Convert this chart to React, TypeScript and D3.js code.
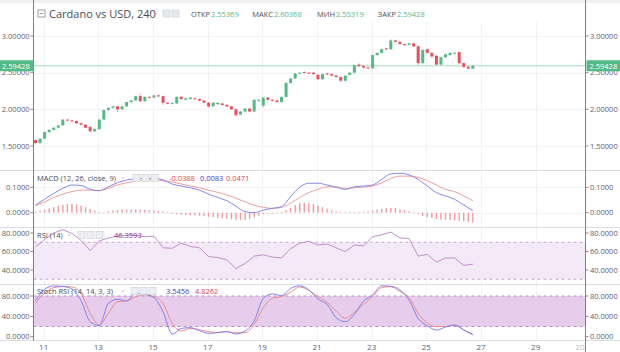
import React from 'react';
import * as d3 from 'd3';

// ---------- DATA ----------
const opens = [1.58,1.54,1.60,1.69,1.72,1.75,1.78,1.86,1.85,1.84,1.81,1.79,1.76,1.70,1.73,1.86,1.99,2.02,2.04,2.00,2.04,2.10,2.12,2.18,2.11,2.17,2.16,2.19,2.18,2.09,2.08,2.08,2.17,2.13,2.14,2.15,2.14,2.12,2.09,2.04,2.07,2.08,2.06,2.04,2.00,1.93,1.97,2.01,1.97,2.12,2.05,2.16,2.13,2.12,2.10,2.17,2.36,2.42,2.49,2.51,2.50,2.50,2.47,2.41,2.49,2.48,2.46,2.44,2.39,2.47,2.50,2.61,2.59,2.57,2.56,2.74,2.77,2.83,2.82,2.94,2.92,2.89,2.88,2.90,2.86,2.63,2.82,2.77,2.73,2.61,2.71,2.74,2.76,2.78,2.63,2.58,2.55369];
const closes = [1.54,1.60,1.69,1.72,1.75,1.78,1.86,1.85,1.84,1.81,1.79,1.75,1.70,1.73,1.86,1.99,2.02,2.04,2.00,2.04,2.10,2.12,2.18,2.11,2.17,2.16,2.19,2.18,2.09,2.08,2.085,2.17,2.14,2.15,2.16,2.14,2.12,2.09,2.04,2.09,2.09,2.06,2.04,2.00,1.92,1.97,2.01,1.97,2.13,2.13,2.16,2.13,2.12,2.10,2.17,2.36,2.42,2.49,2.50,2.50,2.49,2.48,2.41,2.48,2.48,2.46,2.44,2.39,2.46,2.50,2.60,2.59,2.57,2.56,2.74,2.77,2.82,2.82,2.94,2.92,2.89,2.88,2.90,2.86,2.63,2.81,2.77,2.72,2.61,2.71,2.75,2.77,2.77,2.63,2.58,2.555,2.59428];
const highs = [1.59,1.61,1.70,1.73,1.76,1.79,1.87,1.87,1.86,1.85,1.82,1.80,1.77,1.75,1.87,2.00,2.03,2.05,2.05,2.05,2.11,2.13,2.19,2.22,2.18,2.18,2.20,2.20,2.19,2.10,2.10,2.18,2.18,2.16,2.17,2.16,2.15,2.13,2.10,2.10,2.10,2.09,2.07,2.05,2.01,1.98,2.02,2.02,2.14,2.14,2.17,2.17,2.14,2.13,2.18,2.37,2.43,2.50,2.51,2.52,2.51,2.51,2.48,2.49,2.50,2.49,2.47,2.45,2.47,2.51,2.61,2.63,2.60,2.58,2.75,2.78,2.84,2.84,2.96,2.95,2.93,2.90,2.91,2.91,2.87,2.82,2.83,2.78,2.74,2.72,2.76,2.78,2.78,2.79,2.64,2.59,2.60368];
const lows = [1.52,1.53,1.59,1.68,1.71,1.74,1.77,1.84,1.83,1.80,1.78,1.74,1.69,1.69,1.72,1.85,1.98,2.01,1.96,1.99,2.03,2.09,2.11,2.10,2.10,2.15,2.15,2.17,2.06,2.07,2.07,2.07,2.13,2.12,2.13,2.13,2.11,2.08,2.02,2.03,2.06,2.05,2.03,1.99,1.90,1.92,1.96,1.96,1.96,2.10,2.02,2.12,2.11,2.09,2.09,2.16,2.35,2.41,2.48,2.49,2.48,2.47,2.40,2.40,2.47,2.45,2.43,2.38,2.38,2.46,2.49,2.58,2.56,2.55,2.55,2.73,2.76,2.81,2.81,2.91,2.88,2.87,2.87,2.85,2.60,2.62,2.76,2.71,2.60,2.60,2.70,2.73,2.75,2.61,2.56,2.55,2.55319];

// indicator lines, one value every 2 candles
const macdLine = [0.030,0.053,0.076,0.096,0.109,0.107,0.092,0.087,0.102,0.118,0.129,0.133,0.135,0.135,0.129,0.113,0.105,0.098,0.089,0.073,0.060,0.047,0.026,0.004,0.000,0.010,0.017,0.024,0.063,0.100,0.116,0.116,0.109,0.100,0.092,0.102,0.105,0.109,0.131,0.153,0.155,0.149,0.131,0.105,0.079,0.066,0.053,0.030,0.0083];
const signalLine = [0.028,0.042,0.060,0.073,0.083,0.089,0.089,0.087,0.096,0.109,0.118,0.124,0.129,0.129,0.126,0.121,0.113,0.105,0.098,0.089,0.080,0.070,0.057,0.043,0.030,0.021,0.017,0.021,0.037,0.060,0.079,0.092,0.102,0.102,0.096,0.098,0.101,0.105,0.118,0.135,0.144,0.144,0.139,0.126,0.109,0.092,0.083,0.066,0.0471];
// histogram, one per candle
const histogram = [0.004,0.008,0.012,0.017,0.022,0.027,0.031,0.034,0.035,0.033,0.028,0.022,0.015,
0.008,0.002,0.000,0.006,0.009,0.011,0.012,
0.013,0.013,0.012,0.012,0.011,0.010,0.009,0.007,0.005,0.002,
-0.003,-0.006,-0.008,-0.009,-0.010,-0.011,-0.012,-0.014,-0.016,-0.018,-0.020,-0.022,-0.024,-0.026,-0.028,-0.029,-0.028,-0.024,-0.018,-0.012,
-0.006,-0.002,0.000,0.001,0.003,0.010,
0.020,0.030,0.038,0.040,0.038,0.034,0.028,
0.022,0.016,0.010,0.005,0.003,0.002,0.002,
0.002,0.002,0.003,0.004,
0.008,0.012,0.015,0.018,0.019,0.018,0.014,0.010,0.006,
0.001,-0.006,-0.012,-0.017,-0.021,-0.025,-0.027,-0.028,-0.029,-0.030,-0.032,-0.034,-0.036,-0.0388];
const rsiLine = [65,73,80,83.5,79.5,72,61,71.5,74.6,76.5,77.5,77.5,76,76.5,64,63.5,69,65.5,64,54.5,53.5,51,41.5,47,55,56.4,54,53,63,69,71,67,68,64,60,67,66,76,78,81,74.6,74,55,57,48.5,53,53,45,46.3593];
const stochK = [71,93,99.7,99,93.6,71,29.5,22,65.6,73.5,70.2,85.3,83.3,76.7,49,5,16.4,17.7,11.8,6.6,7.9,9.9,5.3,11.2,30.8,75.4,84,80.7,95,100,92,74,63.6,37.5,29.5,44,70,82,100,99,92,72,36,21.6,13,19,23,13,3.5456];
const stochD = [65.6,85.3,96.4,98.4,97.8,85.3,46,23,46,69,70.2,78.7,82,78.7,65.6,26.2,11.2,16.4,13.8,9.9,8.5,9.9,7.9,7.9,24.2,57,75.4,78.7,87.3,97.8,91,78.7,67.6,50.5,36,48,63.6,78.7,96.4,98.4,88.6,76.7,46,27,19.7,20.3,23,13.8,4.8262];

const dayTicks = [11,13,15,17,19,21,23,25,27,29];
const priceTicks = [1.5,2.0,2.5,3.0];
const macdTicks = [0,0.1];
const rsiTicks = [40,60,80];
const stochTicks = [0,40,80];
const lastPrice = 2.59428;
const headerLabels = ['ОТКР', 'МАКС', 'МИН', 'ЗАКР'];
const headerValues = ['2.55369', '2.60368', '2.55319', '2.59428'];

// ---------- LAYOUT ----------
const W = 620, H = 352;
const L = 33.5, R = 585.5;
const FONT = '"Open Sans", "DejaVu Sans", sans-serif';
const UP = '#53b987', DOWN = '#eb4d5c';
const AXIS_TXT = '#5d606b';

const x = d3.scaleLinear().domain([11, 29]).range([43.7, 535.7]);
const candleDay = (i: number) => 10.7 + i / 6;
const yP = d3.scaleLinear().domain([1.5, 3.0]).range([146, 36]);
const yM = d3.scaleLinear().domain([0, 0.1]).range([212.7, 187.3]);
const yR = d3.scaleLinear().domain([40, 80]).range([270, 233]);
const yS = d3.scaleLinear().domain([0, 80]).range([336.7, 296]);

const separators = [170.5, 227.5, 284.5, 340.5];

function lineOf(vals: number[], y: d3.ScaleLinear<number, number>, curve: any = d3.curveMonotoneX) {
  return d3.line<number>()
    .x((_, k) => x(candleDay(k * 2)))
    .y((v) => y(v))
    .curve(curve)(vals) || '';
}

function AxisLabels({ ticks, y, fmt }: { ticks: number[]; y: d3.ScaleLinear<number, number>; fmt: (v: number) => string }) {
  return (
    <g fontFamily={FONT} fontSize={7.5} fill={AXIS_TXT}>
      {ticks.map((t) => (
        <g key={t}>
          <line x1={L - 3} x2={L} y1={y(t)} y2={y(t)} stroke="#888" />
          <line x1={R} x2={R + 3} y1={y(t)} y2={y(t)} stroke="#888" />
          <text x={L - 4} y={y(t) + 2.7} textAnchor="end">{fmt(t)}</text>
          <text x={R + 4.5} y={y(t) + 2.7}>{fmt(t)}</text>
        </g>
      ))}
    </g>
  );
}

function HGrid({ ticks, y }: { ticks: number[]; y: d3.ScaleLinear<number, number> }) {
  return (
    <g>
      {ticks.map((t) => (
        <line key={t} x1={L} x2={R} y1={Math.round(y(t)) + 0.5} y2={Math.round(y(t)) + 0.5} stroke="#f0f2f5" />
      ))}
    </g>
  );
}

function Icons({ x0, y0 }: { x0: number; y0: number }) {
  return (
    <g>
      {[0, 1, 2].map((k) => (
        <rect key={k} x={x0 + k * 9} y={y0} width={7} height={7} fill="#eceef1" stroke="#c8ccd2" strokeWidth={0.6} />
      ))}
    </g>
  );
}

export default function App() {
  const f5 = d3.format('.5f');
  const f4 = d3.format('.4f');
  const bw = 3;
  const headerValueX = [211, 274, 336, 397];

  return (
    <svg width={W} height={H} style={{ position: 'absolute', left: 0, top: 0, background: '#fff' }}>
      <rect x={0} y={0} width={W} height={H} fill="#fff" />
      <rect x={0} y={0} width={W} height={3} fill="#eef0f3" />

      {/* vertical grid */}
      {dayTicks.map((d) => (
        <line key={d} x1={Math.round(x(d)) + 0.5} x2={Math.round(x(d)) + 0.5} y1={22} y2={340} stroke="#f0f2f5" />
      ))}

      <HGrid ticks={priceTicks} y={yP} />
      <HGrid ticks={macdTicks} y={yM} />

      {/* RSI band */}
      <rect x={L} y={yR(70)} width={R - L} height={yR(30) - yR(70)} fill="#f4e9f6" />
      <line x1={L} x2={R} y1={yR(70)} y2={yR(70)} stroke="#c9a7d2" strokeDasharray="3,3" />
      <line x1={L} x2={R} y1={yR(30)} y2={yR(30)} stroke="#c9a7d2" strokeDasharray="3,3" />

      {/* Stoch band */}
      <rect x={L} y={yS(80)} width={R - L} height={yS(20) - yS(80)} fill="#e6cdec" />
      <line x1={L} x2={R} y1={yS(80)} y2={yS(80)} stroke="#b992c4" strokeDasharray="3,3" />
      <line x1={L} x2={R} y1={yS(20)} y2={yS(20)} stroke="#b992c4" strokeDasharray="3,3" />

      {/* panel separators */}
      {separators.map((s) => (
        <line key={s} x1={0} x2={W} y1={s} y2={s} stroke="#d9dde2" />
      ))}

      {/* price line */}
      <line x1={L} x2={R} y1={yP(lastPrice)} y2={yP(lastPrice)} stroke="#a6dcc4" />

      {/* candles */}
      <g>
        {closes.map((c, i) => {
          const o = opens[i];
          const cx = x(candleDay(i));
          const up = c >= o;
          const col = up ? UP : DOWN;
          const top = yP(Math.max(o, c));
          const h = Math.max(1, yP(Math.min(o, c)) - top);
          return (
            <g key={i}>
              <line x1={cx} x2={cx} y1={yP(highs[i])} y2={yP(lows[i])} stroke={col} strokeOpacity={0.6} strokeWidth={0.8} />
              <rect x={cx - bw / 2} y={top} width={bw} height={h} fill={col} />
            </g>
          );
        })}
      </g>

      {/* MACD histogram */}
      <g>
        {histogram.map((v, i) => {
          const cx = x(candleDay(i));
          const y0 = yM(0), y1 = yM(v);
          const top = Math.min(y0, y1);
          const h = Math.max(0.8, Math.abs(y1 - y0));
          return <rect key={i} x={cx - 0.7} y={top} width={1.4} height={h} fill="#f39aa3" />;
        })}
      </g>
      <path d={lineOf(signalLine, yM)} fill="none" stroke="#f29a9e" strokeWidth={1} />
      <path d={lineOf(macdLine, yM)} fill="none" stroke="#8585f0" strokeWidth={1} />

      {/* RSI */}
      <path d={lineOf(rsiLine, yR, d3.curveLinear)} fill="none" stroke="#c28fd1" strokeWidth={1} />

      {/* Stoch RSI */}
      <path d={lineOf(stochD, yS)} fill="none" stroke="#f28a8a" strokeWidth={1} />
      <path d={lineOf(stochK, yS)} fill="none" stroke="#8080f4" strokeWidth={1} />

      {/* axis lines */}
      <line x1={L} x2={L} y1={0} y2={340.5} stroke="#7b7f87" />
      <line x1={R} x2={R} y1={0} y2={H} stroke="#7b7f87" />

      {/* axis labels */}
      <AxisLabels ticks={priceTicks} y={yP} fmt={f5} />
      <AxisLabels ticks={macdTicks} y={yM} fmt={f4} />
      <AxisLabels ticks={rsiTicks} y={yR} fmt={f4} />
      <AxisLabels ticks={stochTicks} y={yS} fmt={f4} />

      {/* price tags */}
      <rect x={0} y={yP(lastPrice) - 5.5} width={L} height={11} fill={UP} />
      <text x={2} y={yP(lastPrice) + 2.8} fontFamily={FONT} fontSize={7.5} fill="#fff">{f5(lastPrice)}</text>
      <rect x={R + 1} y={yP(lastPrice) - 5.5} width={W - R - 1} height={11} fill={UP} />
      <text x={R + 4} y={yP(lastPrice) + 2.8} fontFamily={FONT} fontSize={7.5} fill="#fff">{f5(lastPrice)}</text>

      {/* x axis labels */}
      <g fontFamily={FONT} fontSize={8} fill={AXIS_TXT} textAnchor="middle">
        {dayTicks.map((d) => (
          <text key={d} x={x(d)} y={349.5}>{d}</text>
        ))}
        <text x={580} y={349.5} fill="#b8bcc4">20</text>
      </g>

      {/* header */}
      <g fontFamily={FONT}>
        <rect x={38} y={10} width={7} height={7} fill="none" stroke="#888" strokeWidth={0.8} />
        <line x1={39.5} x2={43.5} y1={13.5} y2={13.5} stroke="#888" strokeWidth={0.8} />
        <text x={49} y={17.5} fontSize={11} fill="#4a4d55">Cardano vs USD, 240</text>
        <circle cx={155.5} cy={14} r={0.9} fill="#aaa" />
        <rect x={163} y={10} width={7} height={7} fill="#e6e8eb" stroke="#c8ccd2" strokeWidth={0.6} />
        <rect x={172} y={10} width={7} height={7} fill="#e6e8eb" stroke="#c8ccd2" strokeWidth={0.6} />
        <g fontSize={7.5}>
          {headerLabels.map((lab, k) => (
            <g key={lab}>
              <text x={headerValueX[k] - 1} y={16.5} fill="#4a4d55" textAnchor="end">{lab}</text>
              <text x={headerValueX[k]} y={16.5} fill={UP}>{headerValues[k]}</text>
            </g>
          ))}
        </g>
      </g>

      {/* indicator legends */}
      <g fontFamily={FONT} fontSize={7.5}>
        <text x={37} y={181} fill="#4a4d55">MACD (12, 26, close, 9)</text>
        <circle cx={123} cy={178} r={0.8} fill="#aaa" />
        <Icons x0={133} y0={174.5} />
        <text x={169} y={181} fill="#e8414f">-0.0388</text>
        <text x={200} y={181} fill="#3d3de0">0.0083</text>
        <text x={226} y={181} fill="#e8414f">0.0471</text>

        <text x={37} y={238} fill="#4a4d55">RSI (14)</text>
        <circle cx={69} cy={235} r={0.8} fill="#aaa" />
        <Icons x0={78} y0={231.5} />
        <text x={114} y={238} fill="#8e2aa6">46.3593</text>

        <text x={37} y={294} fill="#4a4d55">Stoch RSI (14, 14, 3, 3)</text>
        <circle cx={123} cy={291} r={0.8} fill="#aaa" />
        <Icons x0={131} y0={287.5} />
        <text x={166} y={294} fill="#3d3de0">3.5456</text>
        <text x={195} y={294} fill="#e8414f">4.8262</text>
      </g>
    </svg>
  );
}
